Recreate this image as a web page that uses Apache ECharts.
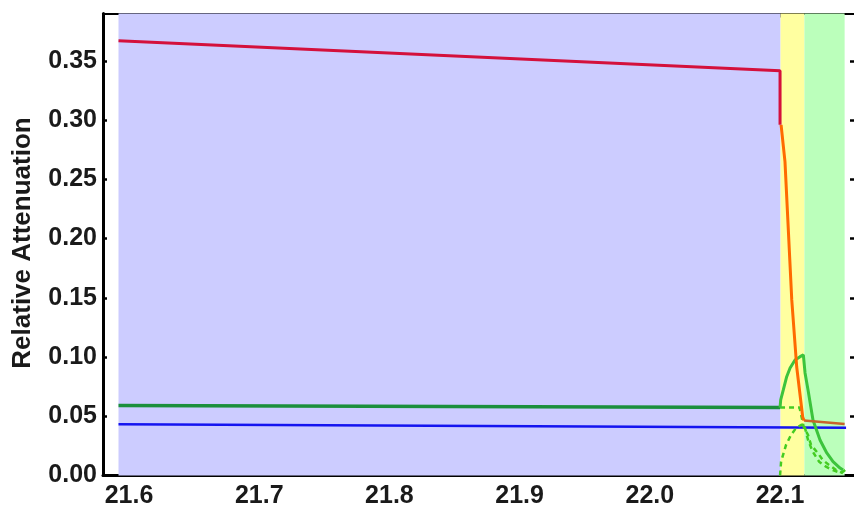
<!DOCTYPE html>
<html>
<head>
<meta charset="utf-8">
<script src="https://cdn.jsdelivr.net/npm/echarts@6/dist/echarts.min.js"></script>
<style>
  html, body { margin: 0; padding: 0; background: #fff; }
  #chart { width: 854px; height: 510px; }
</style>
</head>
<body>
<div id="chart"></div>
<script>
// Tick labels
const xTickLabels = [21.6, 21.7, 21.8, 21.9, 22.0, 22.1];
const yTickLabels = [0, 0.05, 0.10, 0.15, 0.20, 0.25, 0.30, 0.35];

// Shaded regimes along the x axis: [start, end]
const bandBlue = [21.5919, 22.1004];
const bandYellow = [22.1004, 22.1187];
const bandGreen = [22.1187, 22.1496];

// Total attenuation: slow decline, sudden drop, fast fall, flat tail
const redSegment = [[21.5919, 0.367], [22.1, 0.3416], [22.1, 0.296]];
const orangeSegment = [[22.1008, 0.296], [22.1038, 0.2648], [22.109, 0.1482],
  [22.1128, 0.0916], [22.1174, 0.0494], [22.1184, 0.0465]];
const tailSegment = [[22.1184, 0.0465], [22.1496, 0.0435]];

// Blue component
const blueLine = [[21.5919, 0.0432], [22.1507, 0.0404]];

// Green component: flat part and transient peak
const greenFlat = [[21.5919, 0.0590], [22.1, 0.0573]];
const greenPeak = [[22.1, 0.0573], [22.1005, 0.0638], [22.1025, 0.0722], [22.1051, 0.0834],
  [22.1077, 0.0908], [22.1115, 0.0975], [22.1154, 0.1003], [22.1179, 0.1018],
  [22.1192, 0.0866], [22.1215, 0.0722], [22.1253, 0.0469], [22.1307, 0.0300],
  [22.1359, 0.0190], [22.1407, 0.0117], [22.1461, 0.0063], [22.1484, 0.0046]];

// Dashed sub-components of the green curve
const dashedA = [[22.1, 0.0573], [22.115, 0.0573], [22.1157, 0.0536], [22.1184, 0.0401],
  [22.1215, 0.0342], [22.1238, 0.0258], [22.129, 0.019], [22.1328, 0.0131],
  [22.1376, 0.0089], [22.143, 0.0046], [22.1482, 0.0021]];
const dashedB = [[22.1, 0.0], [22.1008, 0.0117], [22.1046, 0.0258], [22.1084, 0.0342],
  [22.1123, 0.0401], [22.1161, 0.0426], [22.1184, 0.0435], [22.1215, 0.030],
  [22.1251, 0.0201], [22.13, 0.0117], [22.1353, 0.0074], [22.1405, 0.0046],
  [22.1468, 0.0021], [22.1505, 0.005]];

// minor ticks every 0.02 between the labelled ones
const xMinor = [];
for (let i = 0; i < xTickLabels.length; i++) {
  for (let k = 1; k <= 4; k++) {
    const v = +(xTickLabels[i] + k * 0.02).toFixed(2);
    if (v < 22.156) xMinor.push(v);
  }
}
xMinor.unshift(21.58);

// the frame continues a little past the right edge of the canvas
const X_MIN = 21.58, X_MAX = 22.1568, Y_MIN = 0, Y_MAX = 0.39;
const labelFont = { fontSize: 25, fontWeight: 'bold', fontFamily: 'Liberation Sans', color: '#1a1a1a' };

function xAxisDef(position, ticks, len, lineWidth, showLine, showLabel) {
  return {
    type: 'value', min: X_MIN, max: X_MAX, position: position,
    axisLine: { show: showLine, onZero: false, lineStyle: { color: '#000', width: lineWidth } },
    axisTick: { show: true, inside: true, length: len, customValues: ticks,
      lineStyle: { color: '#000', width: 2.5 } },
    axisLabel: Object.assign({ show: showLabel, customValues: xTickLabels, margin: 8,
      formatter: v => v.toFixed(1) }, labelFont),
    splitLine: { show: false }
  };
}

function yAxisDef(position, lineWidth, showLine, showLabel) {
  return {
    type: 'value', min: Y_MIN, max: Y_MAX, position: position,
    axisLine: { show: showLine, onZero: false, lineStyle: { color: '#000', width: lineWidth } },
    axisTick: { show: true, inside: true, length: 4, customValues: yTickLabels,
      lineStyle: { color: '#000', width: 2.5 } },
    axisLabel: Object.assign({ show: showLabel, customValues: yTickLabels, margin: 6,
      formatter: v => v.toFixed(2) }, labelFont),
    splitLine: { show: false }
  };
}

function line(data, color, width, dashed, z) {
  return {
    type: 'line', data: data, xAxisIndex: 0, yAxisIndex: 0,
    symbol: 'none', showSymbol: false, silent: true, z: z || 3,
    lineStyle: { color: color, width: width, type: dashed ? [5, 4] : 'solid' },
    animation: false
  };
}

const chart = echarts.init(document.getElementById('chart'), null, { renderer: 'canvas' });
chart.setOption({
  animation: false,
  backgroundColor: '#ffffff',
  grid: { left: 103, right: 0, top: 13.5, bottom: 34.5, containLabel: false },
  xAxis: [
    xAxisDef('bottom', xTickLabels, 5, 3, true, true),
    xAxisDef('bottom', xMinor, 3, 3, false, false),
    xAxisDef('top', xTickLabels, 4, 2, true, false),
    xAxisDef('top', xMinor, 3, 2, false, false)
  ],
  yAxis: [
    yAxisDef('left', 3, true, true),
    yAxisDef('right', 2, false, false)
  ],
  graphic: [{
    type: 'text', x: 23, y: 243, rotation: Math.PI / 2,
    style: { text: 'Relative Attenuation', fontSize: 26, fontWeight: 'bold',
      fontFamily: 'Liberation Sans', fill: '#1a1a1a', align: 'center', verticalAlign: 'middle' }
  }],
  series: [
    {
      type: 'line', data: [], xAxisIndex: 0, yAxisIndex: 0, z: 1, silent: true,
      markArea: {
        silent: true,
        data: [
          [{ xAxis: bandBlue[0], itemStyle: { color: '#ccccff' } }, { xAxis: bandBlue[1] }],
          [{ xAxis: bandYellow[0], itemStyle: { color: '#ffffa0' } }, { xAxis: bandYellow[1] }],
          [{ xAxis: bandGreen[0], itemStyle: { color: '#bbffbb' } }, { xAxis: bandGreen[1] }]
        ]
      }
    },
    line(blueLine, '#1414f0', 2.5),
    line(greenFlat, '#1b8f3c', 3.5),
    line(dashedA, '#44cc22', 2.5, true),
    line(dashedB, '#44cc22', 2.5, true),
    line(greenPeak, '#3cc43c', 3),
    line(tailSegment, '#c8642c', 2.5),
    line(orangeSegment, '#ff6a00', 3),
    line(redSegment, '#d4103c', 3)
  ]
});
</script>
</body>
</html>
